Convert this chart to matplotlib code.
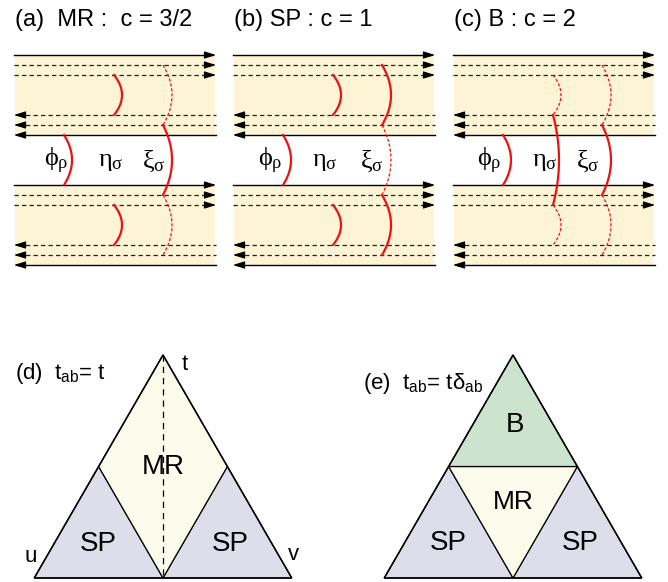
import matplotlib
matplotlib.use("Agg")
import matplotlib.pyplot as plt
import numpy as np
from matplotlib.patches import Polygon

plt.rcParams['font.family'] = ['Liberation Sans', 'DejaVu Sans']
plt.rcParams['mathtext.fontset'] = 'custom'
plt.rcParams['mathtext.rm'] = 'Liberation Serif'
plt.rcParams['mathtext.it'] = 'Liberation Serif'
plt.rcParams['mathtext.sf'] = 'Liberation Sans'
plt.rcParams['mathtext.fallback'] = 'stix'

# ---------------- data ----------------
panel_titles = ["(a)  MR :  c = 3/2", "(b) SP : c = 1", "(c) B : c = 2"]
panel_x0 = [14, 233, 453]
panel_width = 202
field_labels = [r"$ϕ_ρ$", r"$η_σ$", r"$ξ_σ$"]
label_offsets = [[42, 97, 140], [37, 92, 139], [36, 92, 135]]

# band lines (y in px): right-moving and left-moving channels
right_lines = [55, 65, 75]
left_lines = [115, 125, 135]
line_solid = [True, False, False]        # for right lines; reversed for left
band_shift = 130

# field kinks: segments (y1, y2) and their style per panel
phi_segments = [(135, 185)]
eta_segments = [(75, 115), (115, 205), (205, 245)]
xi_segments = [(65, 125), (125, 195), (195, 255)]
eta_styles = [['solid', None, 'solid'], ['solid', None, 'solid'], ['dashed', 'solid', 'dashed']]
xi_styles = [['dashed', 'solid', 'dashed'], ['solid', 'dashed', 'solid'], ['dashed', 'solid', 'dashed']]
field_x = [50, 100, 149]

# triangles
tri_titles = [r"(d)  t$_{\mathsf{ab}}$= t", r"(e)  t$_{\mathsf{ab}}$= t$\mathsf{δ}_{\mathsf{ab}}$"]
tri_apex_x = [163, 513]
tri_apex_y = 355
tri_base_y = 578
color_band = "#fdf4d6"
color_mr = "#fcfcec"
color_sp = "#dedeea"
color_b = "#cce3cd"
red = "#ee1111"

fig = plt.figure(figsize=(6.68, 5.82), dpi=100)
ax = fig.add_axes([0, 0, 1, 1])
ax.set_xlim(0, 668)
ax.set_ylim(582, 0)
ax.axis('off')


def arrowhead(x, y, direction):
    ax.annotate('', xy=(x, y), xytext=(x - direction * 9, y),
                arrowprops=dict(arrowstyle='-|>,head_length=0.7,head_width=0.22',
                                color='black', lw=0.8, shrinkA=0, shrinkB=0))


def arc(x0, y1, y2, bulge, n=40):
    y = np.linspace(y1, y2, n)
    t = (y - y1) / (y2 - y1)
    x = x0 + bulge * 4 * t * (1 - t)
    return x, y


for p, x0 in enumerate(panel_x0):
    x1 = x0 + panel_width
    ax.text(x0 + 1, 20, panel_titles[p], fontsize=17, va='center', ha='left')
    for s in (0, band_shift):
        ax.add_patch(plt.Rectangle((x0 + 1, right_lines[0] + s), panel_width - 2,
                                   left_lines[-1] - right_lines[0], facecolor=color_band,
                                   edgecolor='none', zorder=0))
        for y, solid in zip(right_lines, line_solid):
            ax.plot([x0, x1 - 4], [y + s, y + s], color='black' if solid else '#222222',
                    lw=1.0 if solid else 0.9, ls='-' if solid else (0, (3.5, 2.5)))
            arrowhead(x1, y + s, 1)
        for y, solid in zip(left_lines, line_solid[::-1]):
            ax.plot([x0 + 4, x1], [y + s, y + s], color='black' if solid else '#222222',
                    lw=1.0 if solid else 0.9, ls='-' if solid else (0, (3.5, 2.5)))
            arrowhead(x0, y + s, -1)
    # phi
    for (y1, y2) in phi_segments:
        xx, yy = arc(x0 + field_x[0], y1, y2, 8)
        ax.plot(xx, yy, color=red, lw=1.6)
    for segs, styles, fx, b in ((eta_segments, eta_styles[p], field_x[1], 8),
                                (xi_segments, xi_styles[p], field_x[2], 9)):
        for (y1, y2), st in zip(segs, styles):
            if st is None:
                continue
            bb = b if (y2 - y1) < 80 else b - 2
            xx, yy = arc(x0 + fx, y1, y2, bb)
            if st == 'solid':
                ax.plot(xx, yy, color=red, lw=1.6)
            else:
                ax.plot(xx, yy, color=red, lw=0.9, ls=(0, (2.5, 1.5)))
    for lab, off in zip(field_labels, label_offsets[p]):
        ax.text(x0 + off, 161, lab, fontsize=19, ha='center', va='center')

# ---------------- triangles ----------------
H = tri_base_y - tri_apex_y
half = H / np.sqrt(3)
for k, ax_x in enumerate(tri_apex_x):
    A = (ax_x, tri_apex_y)
    BL = (ax_x - half, tri_base_y)
    BR = (ax_x + half, tri_base_y)
    BM = (ax_x, tri_base_y)
    ML = (ax_x - half / 2, (tri_apex_y + tri_base_y) / 2)
    MR_ = (ax_x + half / 2, (tri_apex_y + tri_base_y) / 2)
    if k == 0:
        polys = [([BL, ML, BM], color_sp), ([BM, MR_, BR], color_sp),
                 ([ML, A, MR_, BM], color_mr)]
    else:
        polys = [([BL, ML, BM], color_sp), ([BM, MR_, BR], color_sp),
                 ([ML, MR_, BM], color_mr), ([A, ML, MR_], color_b)]
    for verts, c in polys:
        ax.add_patch(Polygon(verts, closed=True, facecolor=c, edgecolor='black',
                             lw=0.9, joinstyle='miter'))
    ax.add_patch(Polygon([A, BL, BR], closed=True, facecolor='none', edgecolor='black',
                         lw=1.1, joinstyle='miter'))
    if k == 0:
        ax.plot([ax_x, ax_x], [tri_apex_y, tri_base_y], color='black', lw=0.9,
                ls=(0, (5, 4)))
        ax.text(ax_x, 467, "MR", fontsize=20, ha='center', va='center')
        ax.text(ax_x - 65, 544, "SP", fontsize=20, ha='center', va='center')
        ax.text(ax_x + 67, 544, "SP", fontsize=20, ha='center', va='center')
        ax.text(185, 364, "t", fontsize=16, ha='center', va='center')
        ax.text(31, 556, "u", fontsize=16, ha='center', va='center')
        ax.text(293, 554, "v", fontsize=16, ha='center', va='center')
        ax.text(15, 374, tri_titles[0], fontsize=16, ha='left', va='center')
    else:
        ax.text(ax_x + 2, 425, "B", fontsize=20, ha='center', va='center')
        ax.text(ax_x, 502, "MR", fontsize=19, ha='center', va='center')
        ax.text(ax_x - 65, 543, "SP", fontsize=20, ha='center', va='center')
        ax.text(ax_x + 67, 543, "SP", fontsize=20, ha='center', va='center')
        ax.text(363, 383, tri_titles[1], fontsize=16, ha='left', va='center')

fig.savefig("out.png", dpi=100)
